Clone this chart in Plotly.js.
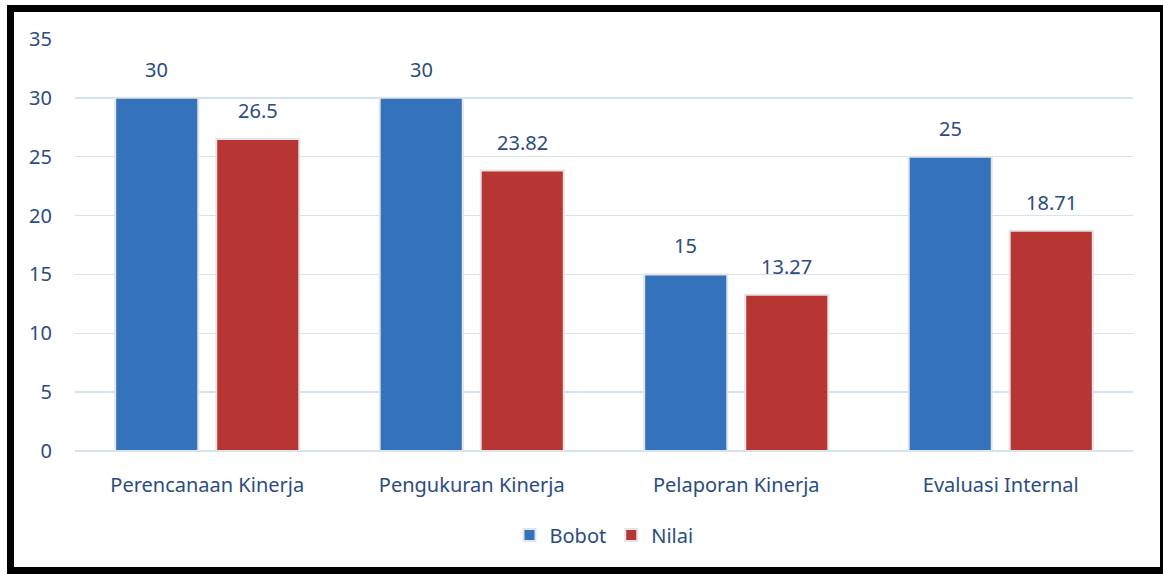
<!DOCTYPE html>
<html>
<head>
<meta charset="utf-8">
<script src="https://cdn.plot.ly/plotly-3.0.1.min.js"></script>
<style>
html,body{margin:0;padding:0;background:#fff;}
#wrap{position:relative;width:1163px;height:574px;overflow:hidden;}
#chart{position:absolute;left:0;top:0;width:1163px;height:574px;}
#frame{position:absolute;left:7px;top:5px;width:1160px;height:569px;border:7px solid #000;box-sizing:border-box;pointer-events:none;}
</style>
</head>
<body>
<div id="wrap"><div id="chart"></div><div id="frame"></div></div>
<script>
const categories = ["Perencanaan Kinerja", "Pengukuran Kinerja", "Pelaporan Kinerja", "Evaluasi Internal"];
const bobot = [30, 30, 15, 25];
const nilai = [26.5, 23.82, 13.27, 18.71];
const bobotLabels = ["30", "30", "15", "25"];
const nilaiLabels = ["26.5", "23.82", "13.27", "18.71"];

const textColor = "#2B4C7E";
const fontFam = "Noto Sans, Open Sans, sans-serif";

const traces = [
  {type:"bar", name:"Bobot", x:categories, y:bobot,
   marker:{color:"#3572BC", line:{color:"#E4E4E4", width:2}}},
  {type:"bar", name:"Nilai", x:categories, y:nilai,
   marker:{color:"#B73532", line:{color:"#E4E4E4", width:2}}}
];

const annotations = [];
categories.forEach((c,i)=>{
  annotations.push({x:c, y:bobot[i], xref:"x", yref:"y", text:bobotLabels[i], showarrow:false,
    xshift:-50.5, yshift:13, yanchor:"bottom", font:{size:20, color:textColor, family:fontFam}});
  annotations.push({x:c, y:nilai[i], xref:"x", yref:"y", text:nilaiLabels[i], showarrow:false,
    xshift:50.5, yshift:13, yanchor:"bottom", font:{size:20, color:textColor, family:fontFam}});
});

const layout = {
  width:1163, height:574,
  margin:{l:75, r:30, t:39, b:123},
  paper_bgcolor:"rgba(0,0,0,0)", plot_bgcolor:"#fff",
  font:{family:fontFam, size:20, color:textColor},
  barmode:"group", bargap:0.236, bargroupgap:0.178,
  showlegend:true,
  legend:{orientation:"h", x:0.5, xanchor:"center", y:-0.204, yanchor:"middle",
    font:{size:20, color:textColor}, itemwidth:30, traceorder:"normal"},
  xaxis:{type:"category", showgrid:false, zeroline:false, showline:false, ticks:"",
    ticklabelstandoff:20, tickfont:{size:20, color:textColor}},
  yaxis:{range:[0,35], dtick:5, tick0:0, showgrid:true, gridcolor:"#D5E2F0", gridwidth:1.5,
    zeroline:true, zerolinecolor:"#D5E2F0", zerolinewidth:1.5, showline:false, ticks:"",
    ticklabelstandoff:22, tickfont:{size:20, color:textColor}},
  annotations:annotations
};

Plotly.newPlot("chart", traces, layout, {displayModeBar:false, staticPlot:true});
</script>
</body>
</html>
